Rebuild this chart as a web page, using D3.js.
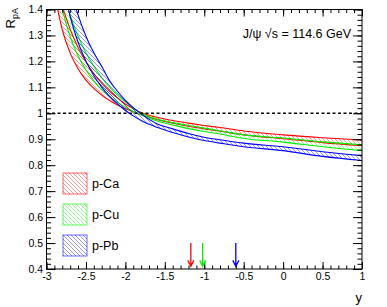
<!DOCTYPE html>
<html><head><meta charset="utf-8">
<script src="https://cdn.jsdelivr.net/npm/d3@7"></script>
<style>body{margin:0;background:#fff;} svg{display:block;}</style>
</head><body>
<script>
// ---- data ----
const rapidity = [-3.0,-2.9,-2.8,-2.7,-2.6,-2.5,-2.4,-2.3,-2.2,-2.1,-2.0,-1.9,-1.8,-1.6,-1.4,-1.2,-1.0,-0.8,-0.5,0,0.5,1.0];
const caLow  = [1.66,1.466,1.322,1.232,1.172,1.128,1.096,1.070,1.049,1.032,1.018,1.006,0.995,0.976,0.962,0.950,0.940,0.931,0.917,0.902,0.887,0.875];
const caHigh = [1.72,1.541,1.415,1.324,1.254,1.198,1.153,1.116,1.085,1.059,1.036,1.018,1.003,0.985,0.972,0.962,0.953,0.945,0.932,0.917,0.906,0.897];
const cuLow  = [1.86,1.568,1.402,1.296,1.221,1.167,1.125,1.091,1.064,1.042,1.023,1.007,0.993,0.970,0.955,0.941,0.930,0.920,0.903,0.889,0.871,0.856];
const cuHigh = [1.84,1.632,1.486,1.379,1.297,1.233,1.181,1.137,1.101,1.070,1.044,1.020,1.000,0.978,0.964,0.953,0.943,0.933,0.917,0.905,0.890,0.879];
const pbLow  = [2.10,1.743,1.517,1.373,1.274,1.201,1.145,1.101,1.065,1.036,1.011,0.990,0.972,0.946,0.926,0.909,0.895,0.885,0.871,0.856,0.834,0.818];
const pbHigh = [2.10,1.843,1.632,1.486,1.379,1.297,1.233,1.181,1.125,1.085,1.050,1.022,0.998,0.960,0.940,0.922,0.908,0.898,0.885,0.871,0.852,0.837];
const seriesNames = ["p-Ca","p-Cu","p-Pb"];
const seriesColors = ["#ff0000","#00ee00","#0000ff"];
const arrowPos = [-1.17,-1.02,-0.6];
const arrowTop = 0.5, arrowTip = 0.41;
const xTicks = [-3,-2.5,-2,-1.5,-1,-0.5,0,0.5,1];
const yTicks = [0.4,0.5,0.6,0.7,0.8,0.9,1.0,1.1,1.2,1.3,1.4];
const titleText = "J/\u03C8 \u221As = 114.6 GeV";

const W=387,H=307;
const L=46.5,R=362,T=9.5,B=269;
const x = d3.scaleLinear().domain([-3,1]).range([L,R]);
const y = d3.scaleLinear().domain([0.4,1.4]).range([B,T]);
const font = "'Liberation Sans', Arial, Helvetica, sans-serif";

const svg = d3.select("body").append("svg").attr("width",W).attr("height",H)
  .style("font-family",font);
const defs = svg.append("defs");
defs.append("clipPath").attr("id","plot").append("rect")
  .attr("x",L).attr("y",T).attr("width",R-L).attr("height",B-T);
seriesColors.forEach((c,i)=>{
  const p = defs.append("pattern").attr("id","hatch"+i).attr("patternUnits","userSpaceOnUse")
    .attr("width",4).attr("height",4);
  p.append("path").attr("d","M-1,-1L5,5M-1,3L1,5M3,-1L5,1")
    .attr("stroke",c).attr("stroke-opacity",0.5).attr("stroke-width",0.8);
});

const bands = [[caLow,caHigh],[cuLow,cuHigh],[pbLow,pbHigh]];
const g = svg.append("g").attr("clip-path","url(#plot)");
const area = d3.area().x((d,i)=>x(rapidity[i])).y0(d=>y(d[0])).y1(d=>y(d[1])).curve(d3.curveMonotoneX);
const line = d3.line().x((d,i)=>x(rapidity[i])).y(d=>y(d)).curve(d3.curveMonotoneX);
bands.forEach((b,i)=>{
  const pts = b[0].map((v,k)=>[v,b[1][k]]);
  g.append("path").attr("d",area(pts)).attr("fill","url(#hatch"+i+")");
  b.forEach(arr=>g.append("path").attr("d",line(arr)).attr("fill","none")
    .attr("stroke",seriesColors[i]).attr("stroke-width",1.1));
});

// dashed line at 1
svg.append("line").attr("x1",x(-3)).attr("x2",x(1)).attr("y1",y(1)).attr("y2",y(1))
  .attr("stroke","#000").attr("stroke-width",1.4).attr("stroke-dasharray","3,2.5");

// axes
const fmt = d=>String(+d.toFixed(1));
const minorY = d3.range(0.4,1.4001,0.02);
const minorX = d3.range(-3,1.0001,0.1);
function styleAxis(sel){ sel.select(".domain").remove(); sel.selectAll("line").attr("stroke","#000");
  sel.selectAll("text").attr("font-size",10.5).attr("font-family",font).attr("fill","#000"); }
svg.append("g").attr("transform",`translate(${L},0)`)
  .call(d3.axisLeft(y).tickValues(minorY).tickSize(-4.5).tickFormat("")).call(styleAxis);
svg.append("g").attr("transform",`translate(${L},0)`)
  .call(d3.axisLeft(y).tickValues(yTicks).tickSize(-9).tickPadding(3.5).tickFormat(fmt)).call(styleAxis);
svg.append("g").attr("transform",`translate(${R},0)`)
  .call(d3.axisRight(y).tickValues(minorY).tickSize(-4.5).tickFormat("")).call(styleAxis);
svg.append("g").attr("transform",`translate(${R},0)`)
  .call(d3.axisRight(y).tickValues(yTicks).tickSize(-9).tickFormat("")).call(styleAxis);
svg.append("g").attr("transform",`translate(0,${B})`)
  .call(d3.axisBottom(x).tickValues(minorX).tickSize(-3.5).tickFormat("")).call(styleAxis);
svg.append("g").attr("transform",`translate(0,${B})`)
  .call(d3.axisBottom(x).tickValues(xTicks).tickSize(-7).tickPadding(4).tickFormat(fmt)).call(styleAxis);
svg.append("g").attr("transform",`translate(0,${T})`)
  .call(d3.axisTop(x).tickValues(minorX).tickSize(-3.5).tickFormat("")).call(styleAxis);
svg.append("g").attr("transform",`translate(0,${T})`)
  .call(d3.axisTop(x).tickValues(xTicks).tickSize(-7).tickFormat("")).call(styleAxis);
svg.append("rect").attr("x",L).attr("y",T).attr("width",R-L).attr("height",B-T)
  .attr("fill","none").attr("stroke","#000").attr("stroke-width",1);

// arrows
arrowPos.forEach((a,i)=>{
  const ax=x(a), y0=y(arrowTop), y1=y(arrowTip);
  svg.append("path").attr("d",`M${ax},${y0}L${ax},${y1}M${ax-3},${y1-6}L${ax},${y1}L${ax+3},${y1-6}`)
    .attr("fill","none").attr("stroke",seriesColors[i]).attr("stroke-width",1.3);
});

// legend
seriesNames.forEach((n,i)=>{
  const by = 173 + i*31;
  svg.append("rect").attr("x",63).attr("y",by).attr("width",24).attr("height",21)
    .attr("fill","url(#hatch"+i+")").attr("stroke",seriesColors[i]).attr("stroke-opacity",0.6);
  svg.append("text").attr("x",92).attr("y",by+15).attr("font-size",12.5).text(n);
});

// titles
svg.append("text").attr("x",351).attr("y",38).attr("text-anchor","end").attr("font-size",12.5).text(titleText);
svg.append("text").attr("x",362).attr("y",302).attr("text-anchor","end").attr("font-size",13).text("y");
const yl = svg.append("text").attr("transform","translate(15,8) rotate(-90)").attr("text-anchor","end").attr("font-size",13);
yl.append("tspan").text("R");
yl.append("tspan").attr("dy",3).attr("font-size",9).text("pA");
</script>
</body></html>
